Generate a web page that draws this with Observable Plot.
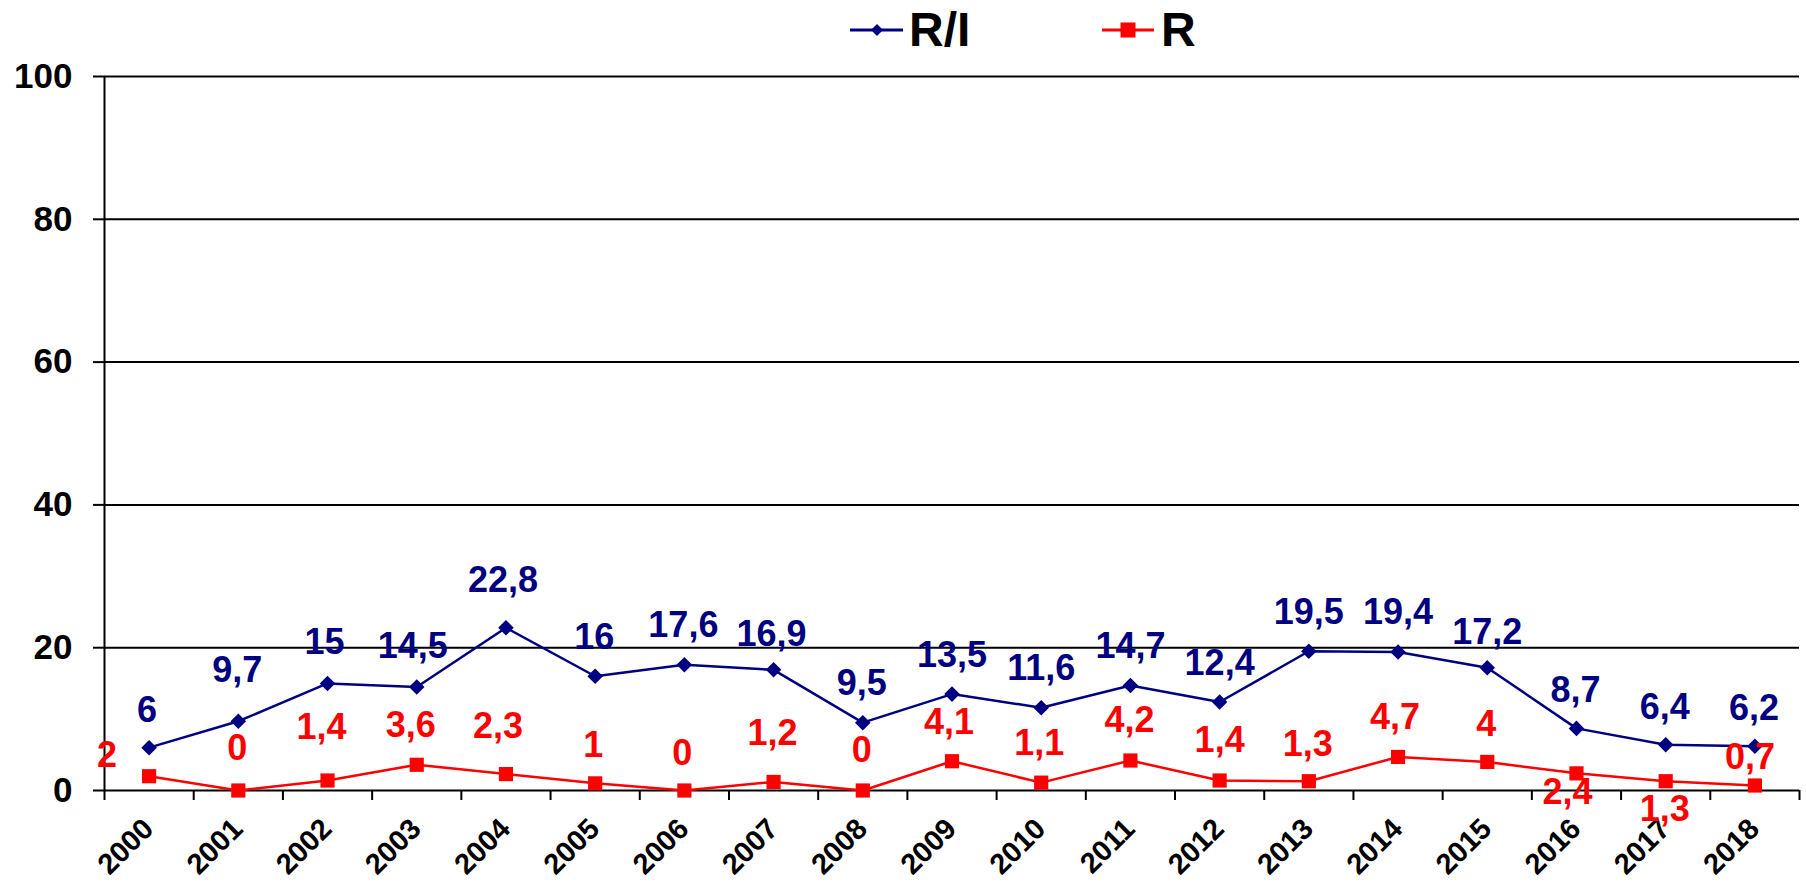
<!DOCTYPE html>
<html>
<head>
<meta charset="utf-8">
<script src="https://cdn.jsdelivr.net/npm/d3@7"></script>
<script src="https://cdn.jsdelivr.net/npm/@observablehq/plot@0.6"></script>
<style>
  html, body { margin: 0; padding: 0; background: #fff; overflow: hidden; }
  body { font-family: "Liberation Sans", Arial, sans-serif; }
  #legend { position: relative; width: 1806px; height: 56px; }
  #legend .sw { position: absolute; top: 0; }
  #legend .lab { position: absolute; font-size: 48px; font-weight: bold; line-height: 48px; color: #000; white-space: nowrap; }
  #chart svg { display: block; }
</style>
</head>
<body>
<div id="legend"></div>
<div id="chart"></div>
<script>
// ---- data ----
const years = [2000, 2001, 2002, 2003, 2004, 2005, 2006, 2007, 2008, 2009, 2010, 2011, 2012, 2013, 2014, 2015, 2016, 2017, 2018];
const riValues = [6, 9.7, 15, 14.5, 22.8, 16, 17.6, 16.9, 9.5, 13.5, 11.6, 14.7, 12.4, 19.5, 19.4, 17.2, 8.7, 6.4, 6.2];
const rValues = [2, 0, 1.4, 3.6, 2.3, 1, 0, 1.2, 0, 4.1, 1.1, 4.2, 1.4, 1.3, 4.7, 4, 2.4, 1.3, 0.7];
const yTicks = [0, 20, 40, 60, 80, 100];
const seriesNames = ["R/I", "R"];

// label offsets (pixels, relative to each point) as placed in the original chart
const riLabelDx = [-2, -1, -3, -4, -3, -1, -1, -2, -1, 0, 0, 0, 0, 0, 0, 0, -1, -1, -1];
const riLabelDy = [-37, -51, -41, -41, -47, -39, -39, -35, -39, -39, -39, -39, -38, -39, -40, -35, -38, -37, -38];
const rLabelDx = [-42, -1, -6, -6, -8, -2, -2, -1, -1, -3, -2, -1, 0, -1, -3, -1, -9, -1, -5];
const rLabelDy = [-21, -42, -53, -39, -48, -38, -37, -48, -40, -39, -39, -40, -40, -37, -39, -37, 19, 28, -28];

// ---- styles ----
const navy = "#000080";
const red = "#FF0000";
const fmt = v => String(v).replace(".", ",");

const rows = years.map((year, i) => ({year, ri: riValues[i], r: rValues[i]}));
const boundaries = years.map(y => y - 0.5).concat([years[years.length - 1] + 0.5]);

// ---- legend (HTML above the plot) ----
const legend = document.getElementById("legend");
legend.innerHTML = `
  <svg class="sw" style="left:846px" width="62" height="56">
    <line x1="4" y1="30" x2="57" y2="30" stroke="${navy}" stroke-width="3"/>
    <path d="M31,24 L37,30 L31,36 L25,30 Z" fill="${navy}"/>
  </svg>
  <span class="lab" style="left:909px;top:6px">${seriesNames[0]}</span>
  <svg class="sw" style="left:1098px" width="62" height="56">
    <line x1="4" y1="30" x2="56" y2="30" stroke="${red}" stroke-width="3"/>
    <rect x="22.5" y="22.5" width="15" height="15" fill="${red}"/>
  </svg>
  <span class="lab" style="left:1161px;top:6px">${seriesNames[1]}</span>
`;

// ---- chart ----
const labelMarks = [];
rows.forEach((d, i) => {
  labelMarks.push(Plot.text([d], {
    x: "year", y: "ri", text: d => fmt(d.ri),
    dx: riLabelDx[i], dy: riLabelDy[i],
    fill: navy, fontSize: 36, fontWeight: "bold"
  }));
  labelMarks.push(Plot.text([d], {
    x: "year", y: "r", text: d => fmt(d.r),
    dx: rLabelDx[i], dy: rLabelDy[i],
    fill: red, fontSize: 36, fontWeight: "bold"
  }));
});

const chart = Plot.plot({
  width: 1806,
  height: 826,
  marginTop: 20,
  marginBottom: 92,
  marginLeft: 104,
  marginRight: 7,
  style: {fontFamily: "'Liberation Sans', Arial, sans-serif", color: "#000", background: "#fff", overflow: "visible"},
  x: {type: "linear", domain: [years[0] - 0.5, years[years.length - 1] + 0.5]},
  y: {domain: [0, 100]},
  marks: [
    Plot.ruleY(yTicks, {stroke: "#000", strokeWidth: 2}),
    Plot.ruleX([boundaries[0]], {stroke: "#000", strokeWidth: 2}),
    Plot.axisY({ticks: yTicks, tickSize: 11, tickPadding: 21, fontSize: 35, fontWeight: "bold", strokeWidth: 2, label: null}),
    Plot.axisX({ticks: boundaries, tickSize: 10, tickFormat: () => "", strokeWidth: 2, label: null}),
    Plot.text(years, {
      x: d => d, frameAnchor: "bottom", text: d => String(d),
      rotate: -45, textAnchor: "end", lineAnchor: "bottom",
      dx: 6, dy: 40, fontSize: 29, fontWeight: "bold", fill: "#000"
    }),
    Plot.line(rows, {x: "year", y: "ri", stroke: navy, strokeWidth: 2.5}),
    Plot.dot(rows, {x: "year", y: "ri", symbol: "diamond2", r: 7, fill: navy, stroke: "none"}),
    Plot.line(rows, {x: "year", y: "r", stroke: red, strokeWidth: 2.5}),
    Plot.dot(rows, {x: "year", y: "r", symbol: "square", r: 8, fill: red, stroke: "none"}),
    ...labelMarks
  ]
});
document.getElementById("chart").appendChild(chart);
</script>
</body>
</html>
